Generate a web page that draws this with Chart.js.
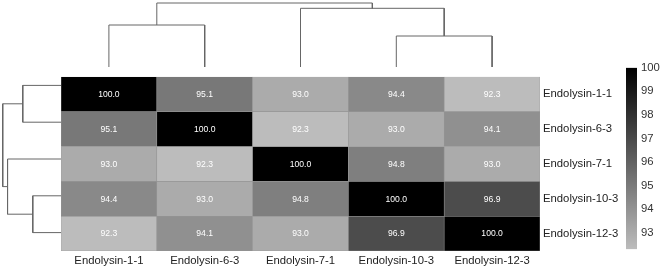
<!DOCTYPE html>
<html><head><meta charset="utf-8">
<script src="https://cdn.jsdelivr.net/npm/chart.js@4.4.0/dist/chart.umd.min.js"></script>
<style>
html,body{margin:0;padding:0;background:#fff;}
#wrap{position:relative;width:662px;height:270px;overflow:hidden;background:#fff;}
canvas{position:absolute;}
</style></head><body>
<div id="wrap">
<canvas id="top" width="479" height="67" style="left:61px;top:0px;"></canvas>
<canvas id="left" width="61" height="184" style="left:0px;top:67px;"></canvas>
<canvas id="heat" width="601" height="203" style="left:61px;top:67px;"></canvas>
<canvas id="bar" width="42" height="203" style="left:620px;top:57px;"></canvas>
</div>
<script>
// ---- data ----
const labels = ['Endolysin-1-1','Endolysin-6-3','Endolysin-7-1','Endolysin-10-3','Endolysin-12-3'];
const row1 = [100.0, 95.1, 93.0, 94.4, 92.3];
const row2 = [95.1, 100.0, 92.3, 93.0, 94.1];
const row3 = [93.0, 92.3, 100.0, 94.8, 93.0];
const row4 = [94.4, 93.0, 94.8, 100.0, 96.9];
const row5 = [92.3, 94.1, 93.0, 96.9, 100.0];
const rows = [row1, row2, row3, row4, row5];
const colorbarTicks = [93, 94, 95, 96, 97, 98, 99, 100];
const colorMin = 92.3, colorMax = 100;
// dendrogram merges (nodes >= 5 are earlier merges)
const mergeLeft = [0, 3, 2, 5];
const mergeRight = [1, 4, 6, 7];
const mergeHeight = [4.2, 3.1, 5.87, 6.4];

// ---- helpers ----
const FONT = '"Liberation Sans", Arial, sans-serif';
const LIGHT = 188;
function grayFor(v) {
  const t = (colorMax - v) / (colorMax - colorMin);
  const g = Math.round(Math.max(0, Math.min(1, t)) * LIGHT);
  return 'rgb(' + g + ',' + g + ',' + g + ')';
}
function dendroSegments() {
  const n = labels.length;
  const pos = [], ht = [];
  for (let i = 0; i < n; i++) { pos.push(i); ht.push(0); }
  const segs = [];
  for (let k = 0; k < mergeLeft.length; k++) {
    const l = mergeLeft[k], r = mergeRight[k], h = mergeHeight[k];
    segs.push([[pos[l], ht[l]], [pos[l], h], [pos[r], h], [pos[r], ht[r]]]);
    pos.push((pos[l] + pos[r]) / 2); ht.push(h);
  }
  return segs;
}
const segs = dendroSegments();
const LINE = '#666666';
Chart.defaults.font.family = FONT;

// ---- top dendrogram ----
new Chart(document.getElementById('top'), {
  type: 'scatter',
  data: { datasets: segs.map(s => ({
    data: s.map(p => ({x: p[0], y: p[1]})), showLine: true, pointRadius: 0,
    borderColor: LINE, borderWidth: 1, tension: 0, fill: false, clip: false }))},
  options: { responsive: false, animation: false, layout: {padding: 0},
    plugins: {legend: {display: false}, tooltip: {enabled: false}},
    scales: { x: {type: 'linear', display: false, min: -0.5, max: 4.5},
              y: {type: 'linear', display: false, min: 0, max: 6.7} } }
});

// ---- left dendrogram ----
new Chart(document.getElementById('left'), {
  type: 'scatter',
  data: { datasets: segs.map(s => ({
    data: s.map(p => ({x: p[1], y: p[0]})), showLine: true, pointRadius: 0,
    borderColor: LINE, borderWidth: 1, tension: 0, fill: false, clip: false }))},
  options: { responsive: false, animation: false, layout: {padding: 0},
    plugins: {legend: {display: false}, tooltip: {enabled: false}},
    scales: { x: {type: 'linear', display: false, min: 0, max: 6.7, reverse: true},
              y: {type: 'linear', display: false, min: -0.5, max: 4.5, reverse: true} } }
});

// ---- heatmap ----
const cellText = {
  id: 'cellText',
  afterDatasetsDraw(chart) {
    const ctx = chart.ctx;
    ctx.save();
    ctx.font = '8.6px ' + FONT;
    ctx.fillStyle = '#ffffff';
    ctx.textAlign = 'center';
    ctx.textBaseline = 'middle';
    chart.data.datasets.forEach((ds, i) => {
      chart.getDatasetMeta(i).data.forEach((el, j) => {
        const p = el.getProps(['x', 'y', 'base'], true);
        ctx.fillText(ds.values[j].toFixed(1), p.x, (p.y + p.base) / 2 + 0.5);
      });
    });
    ctx.restore();
  }
};
new Chart(document.getElementById('heat'), {
  type: 'bar',
  data: { labels: labels, datasets: rows.map((r, i) => ({
    values: r,
    data: r.map(() => [i, i + 1]),
    backgroundColor: r.map(grayFor),
    borderColor: '#959595', borderWidth: 0.6, borderSkipped: false,
    barPercentage: 1, categoryPercentage: 1, grouped: false,
    xAxisID: 'x', yAxisID: 'yv' }))},
  options: { responsive: false, animation: false, layout: {padding: 0},
    plugins: {legend: {display: false}, tooltip: {enabled: false}},
    scales: {
      x: { type: 'category', offset: true, grid: {display: false, drawTicks: false}, border: {display: false},
           ticks: {padding: 3, color: '#222', font: {size: 11.3, family: FONT}, maxRotation: 0, autoSkip: false},
           afterFit(s) { s.height = 19; } },
      yv: { type: 'linear', display: false, min: 0, max: 5, reverse: true },
      yl: { type: 'category', labels: labels, position: 'right', offset: true,
            grid: {display: false, drawTicks: false}, border: {display: false},
            ticks: {padding: 3, color: '#222', font: {size: 11.3, family: FONT}, autoSkip: false},
            afterFit(s) { s.width = 122; } }
    } },
  plugins: [cellText]
});

// ---- colorbar ----
new Chart(document.getElementById('bar'), {
  type: 'bar',
  data: { labels: ['scale'], datasets: [{
    data: [[colorMin, colorMax]],
    backgroundColor(ctx) {
      const chart = ctx.chart;
      if (!chart.chartArea) return '#888';
      const y = chart.scales.y;
      const g = chart.ctx.createLinearGradient(0, y.getPixelForValue(colorMax), 0, y.getPixelForValue(colorMin));
      g.addColorStop(0, grayFor(colorMax));
      g.addColorStop(1, grayFor(colorMin));
      return g;
    },
    borderWidth: 0, barPercentage: 1, categoryPercentage: 1 }]},
  options: { responsive: false, animation: false, layout: {padding: {top: 10, bottom: 10, left: 6, right: 0}},
    plugins: {legend: {display: false}, tooltip: {enabled: false}},
    scales: {
      x: { display: false },
      y: { type: 'linear', position: 'right', min: colorMin, max: colorMax,
           grid: {display: false, drawTicks: false}, border: {display: false},
           afterBuildTicks(s) { s.ticks = colorbarTicks.map(v => ({value: v})); },
           ticks: {padding: 4, color: '#333', font: {size: 11.3, family: FONT}},
           afterFit(s) { s.width = 25; } }
    } }
});
</script>
</body></html>
